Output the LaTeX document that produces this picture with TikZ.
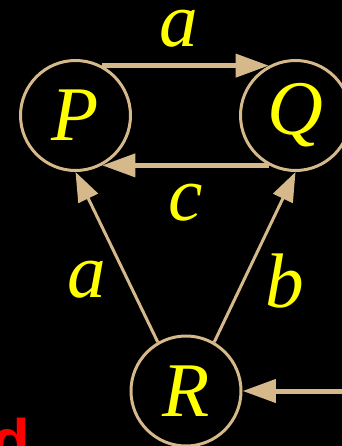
\documentclass[tikz,border=0pt]{standalone}
\usepackage{fontspec}
\setmainfont{Liberation Serif}
\setsansfont{Liberation Sans}
\usetikzlibrary{arrows.meta}
\definecolor{edgetan}{RGB}{214,185,138}
\definecolor{labelyellow}{RGB}{255,255,0}
\definecolor{markred}{RGB}{255,0,0}

\begin{document}
\begin{tikzpicture}[x=0.75pt,y=-0.75pt,
    state/.style={circle,draw=edgetan,line width=2.25pt,minimum size=82.5pt,inner sep=0pt,
      text=labelyellow,font=\fontsize{58}{60}\selectfont\itshape},
    lbl/.style={text=labelyellow,inner sep=0pt,font=\fontsize{58}{60}\selectfont\itshape},
    thickarr/.style={draw=edgetan,line width=3.75pt,-{Triangle[length=25pt,width=17pt]}},
    thinarr/.style={draw=edgetan,line width=2.25pt,-{Triangle[length=22pt,width=16pt]}}]
  % --- Canvas ---
  \fill[black] (0,0) rectangle (342,446);
  \useasboundingbox (0,0) rectangle (342,446);
  \clip (0,0) rectangle (342,446);

  % --- States ---
  \node[state] (P) at (75.5,115.5) {P};
  \node[state] (Q) at (295.5,115.5) {Q};
  \node[state] (R) at (186,391) {R};

  % --- Transitions ---
  \draw[thickarr] (P.62) -- (Q.118);
  \draw[thickarr] (Q.242) -- (P.298);
  \draw[thinarr] (R.120) -- (P.south);
  \draw[thinarr] (R.60) -- (Q.south);
  \coordinate (in) at (346,391);
  \draw[thickarr] (in) -- (R.east);

  % --- Labels ---
  \node[lbl] (la) at (179,28.5) {a};
  \node[lbl] (lc) at (186,203) {c};
  \node[lbl] (lpa) at (86.5,280) {a};
  \node[lbl] (lqb) at (285,281) {b};

  % --- Cut-off mark ---
  \node[anchor=base west,inner sep=0pt,text=markred,
    font=\sffamily\bfseries\fontsize{46}{46}\selectfont] (mark) at (-8,462) {d};
\end{tikzpicture}
\end{document}
